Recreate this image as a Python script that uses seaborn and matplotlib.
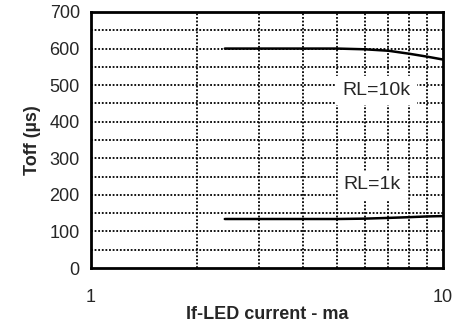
import pandas as pd
import matplotlib
matplotlib.use('Agg')
import matplotlib.pyplot as plt
import seaborn as sns

# Data
current_10k = [2.4, 3.0, 4.0, 5.0, 6.0, 7.0, 8.0, 9.0, 10.0]
toff_10k = [600, 600, 600, 600, 598, 594, 586, 578, 570]

current_1k = [2.4, 3.0, 4.0, 5.0, 6.0, 7.0, 8.0, 9.0, 10.0]
toff_1k = [134, 134, 134, 134, 135, 137, 139, 141, 142]

y_ticks = [0, 100, 200, 300, 400, 500, 600, 700]
x_ticks = [1, 10]

df = pd.concat([
    pd.DataFrame({'current': current_10k, 'toff': toff_10k, 'load': 'RL=10k'}),
    pd.DataFrame({'current': current_1k, 'toff': toff_1k, 'load': 'RL=1k'}),
])

sns.set_style('white')
plt.rcParams['font.family'] = ['Liberation Sans', 'DejaVu Sans']

fig = plt.figure(figsize=(4.54, 3.24), dpi=100)
ax = fig.add_axes([0.2004, 0.1728, 0.7754, 0.7902])

sns.lineplot(data=df, x='current', y='toff', units='load', estimator=None,
             color='black', linewidth=1.8, ax=ax, legend=False)

ax.set_xscale('log')
ax.set_xlim(1, 10)
ax.set_ylim(0, 700)

# dotted grid: every 50 us and every integer mA
for y in range(50, 700, 50):
    ax.axhline(y, color='black', linestyle=(0, (1, 1)), linewidth=1.3, zorder=0)
for x in range(2, 10):
    ax.axvline(x, color='black', linestyle=(0, (1, 1)), linewidth=1.3, zorder=0)

ax.set_yticks(y_ticks)
ax.set_yticklabels([str(v) for v in y_ticks])
ax.set_xticks(x_ticks)
ax.set_xticklabels([str(v) for v in x_ticks])
ax.xaxis.set_minor_locator(matplotlib.ticker.NullLocator())
ax.tick_params(axis='y', length=0, pad=8, labelsize=13)
ax.tick_params(axis='x', length=0, pad=15, labelsize=13)

for spine in ax.spines.values():
    spine.set_visible(True)
    spine.set_color('black')
    spine.set_linewidth(2)

ax.text(6.45, 486, 'RL=10k', ha='center', va='center', fontsize=14,
        backgroundcolor='white')
ax.text(6.3, 227, 'RL=1k', ha='center', va='center', fontsize=14,
        backgroundcolor='white')

ax.set_xlabel('If-LED current - ma', fontsize=13, fontweight='bold', labelpad=0)
ax.set_ylabel('Toff (µs)', fontsize=13, fontweight='bold', labelpad=6)

fig.savefig('out.png', dpi=100)
